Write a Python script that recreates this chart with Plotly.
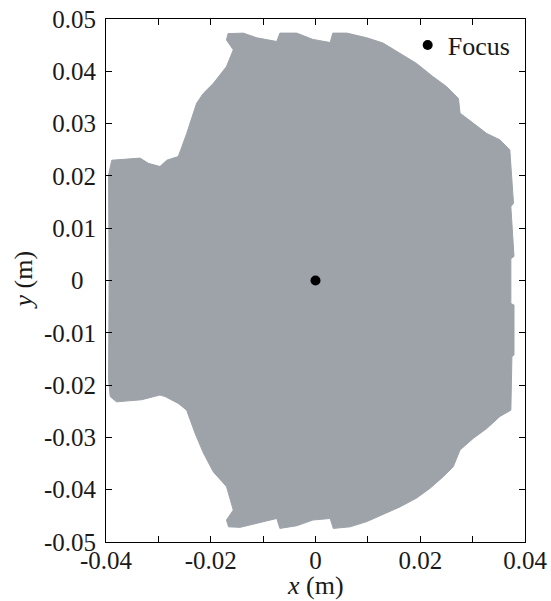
import plotly.graph_objects as go

# Boundary of the gray region (upper half, left -> right), in metres
upper_x = [-0.0394, -0.0395, -0.0389, -0.0335, -0.0319, -0.0297, -0.0284, -0.0262, -0.0246, -0.0227,
           -0.0214, -0.0195, -0.0170, -0.0157, -0.0170, -0.0167, -0.0138, -0.0112, -0.0074, -0.0068,
           -0.0036, -0.0005, 0.0028, 0.0033, 0.0060, 0.0098, 0.0129, 0.0161, 0.0193, 0.0224,
           0.0250, 0.0273, 0.0276, 0.0301, 0.0327, 0.0352, 0.0371, 0.0378, 0.0373, 0.0379,
           0.0373, 0.0373]
upper_y = [0.0, 0.0202, 0.0230, 0.0234, 0.0224, 0.0218, 0.0230, 0.0237, 0.0281, 0.0339,
           0.0358, 0.0377, 0.0409, 0.0441, 0.0460, 0.0472, 0.0473, 0.0464, 0.0457, 0.0473,
           0.0473, 0.0461, 0.0455, 0.0473, 0.0473, 0.0464, 0.0454, 0.0434, 0.0415, 0.0390,
           0.0371, 0.0348, 0.0320, 0.0301, 0.0281, 0.0269, 0.0250, 0.0148, 0.0141, 0.0046,
           0.0042, 0.0]

# Lower half (right -> left)
lower_x = [0.0373, 0.0379, 0.0379, 0.0375, 0.0373, 0.0352, 0.0327, 0.0301, 0.0276, 0.0263,
           0.0244, 0.0219, 0.0193, 0.0161, 0.0129, 0.0098, 0.0066, 0.0034, 0.0028, -0.0005,
           -0.0036, -0.0068, -0.0074, -0.0112, -0.0144, -0.0166, -0.0170, -0.0157, -0.0170, -0.0195,
           -0.0214, -0.0230, -0.0246, -0.0262, -0.0287, -0.0297, -0.0332, -0.0380, -0.0392, -0.0395]
lower_y = [-0.0044, -0.0047, -0.0142, -0.0146, -0.0248, -0.0260, -0.0283, -0.0302, -0.0324, -0.0356,
           -0.0375, -0.0397, -0.0416, -0.0433, -0.0448, -0.0461, -0.0471, -0.0474, -0.0455, -0.0458,
           -0.0469, -0.0474, -0.0455, -0.0464, -0.0472, -0.0471, -0.0458, -0.0439, -0.0394, -0.0366,
           -0.0330, -0.0292, -0.0248, -0.0235, -0.0222, -0.0219, -0.0228, -0.0232, -0.0222, -0.0190]

focus_x = [0.0]
focus_y = [0.0]

x_tickvals = [-0.04, -0.03, -0.02, -0.01, 0, 0.01, 0.02, 0.03, 0.04]
x_ticktext = ["-0.04", "", "-0.02", "", "0", "", "0.02", "", "0.04"]
y_tickvals = [-0.05, -0.04, -0.03, -0.02, -0.01, 0, 0.01, 0.02, 0.03, 0.04, 0.05]
y_ticktext = ["-0.05", "-0.04", "-0.03", "-0.02", "-0.01", "0\u2007", "0.01", "0.02", "0.03", "0.04", "0.05"]

gray = "#9DA3A9"
font = "Liberation Serif, Times New Roman, serif"
fs = 25
txt = "#1a1a1a"

fig = go.Figure()
fig.add_trace(go.Scatter(
    x=upper_x + lower_x + [upper_x[0]],
    y=upper_y + lower_y + [upper_y[0]],
    mode="lines", fill="toself", fillcolor=gray,
    line=dict(color=gray, width=1), showlegend=False, hoverinfo="skip"))
fig.add_trace(go.Scatter(
    x=focus_x, y=focus_y, mode="markers", name="Focus",
    marker=dict(color="black", size=10, symbol="circle")))

axis_common = dict(showline=True, linecolor="black", linewidth=1, mirror="ticks",
                   ticks="inside", ticklen=6, tickcolor="black", showgrid=False,
                   zeroline=False, automargin=False,
                   tickfont=dict(family=font, size=fs, color=txt))

fig.update_xaxes(range=[-0.04, 0.04], tickvals=x_tickvals, ticktext=x_ticktext,
                 ticklabelstandoff=-4, **axis_common)
fig.update_yaxes(range=[-0.05, 0.05], tickvals=y_tickvals, ticktext=y_ticktext,
                 ticklabelstandoff=4, **axis_common)

fig.add_annotation(text="<i>x</i> (m)", xref="paper", yref="paper", x=0.5, y=-0.084,
                   xanchor="center", yanchor="middle", showarrow=False,
                   font=dict(family=font, size=26, color=txt))
fig.add_annotation(text="<i>y</i> (m)", xref="paper", yref="paper", x=-0.198, y=0.5,
                   xanchor="center", yanchor="middle", showarrow=False, textangle=-90,
                   font=dict(family=font, size=26, color=txt))

fig.update_layout(
    width=551, height=601,
    margin=dict(l=106, r=26, t=19, b=59),
    plot_bgcolor="white", paper_bgcolor="white",
    font=dict(family=font, size=fs, color=txt),
    legend=dict(x=0.72, y=0.995, xanchor="left", yanchor="top",
                bgcolor="rgba(0,0,0,0)", font=dict(family=font, size=26, color=txt),
                itemwidth=30, tracegroupgap=0),
)

fig.write_html("out.html", config={"responsive": False, "displayModeBar": False},
               post_script="document.body.style.margin='0';document.body.style.overflow='hidden';")
